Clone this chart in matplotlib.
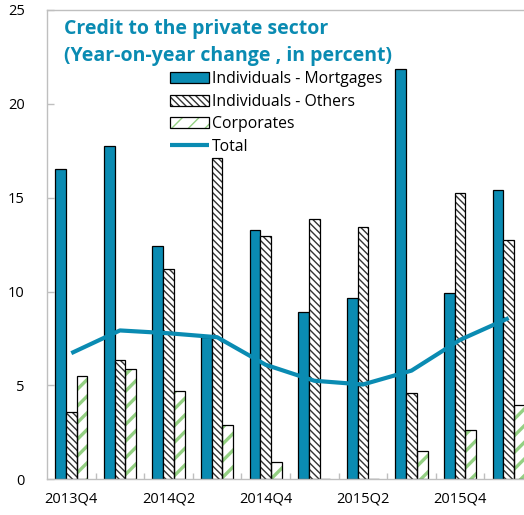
import matplotlib
matplotlib.use("Agg")
import matplotlib.pyplot as plt
import numpy as np

categories = ["2013Q4", "2014Q1", "2014Q2", "2014Q3", "2014Q4",
              "2015Q1", "2015Q2", "2015Q3", "2015Q4", "2016Q1"]
mortgages = [16.55, 17.77, 12.44, 7.57, 13.29, 8.89, 9.65, 21.88, 9.94, 15.39]
others = [3.57, 6.33, 11.22, 17.1, 12.96, 13.85, 13.44, 4.62, 15.23, 12.73]
corporates = [5.49, 5.9, 4.73, 2.88, 0.92, 0.02, 0.02, 1.51, 2.65, 3.96]
total = [6.72, 7.93, 7.78, 7.57, 6.1, 5.25, 5.05, 5.79, 7.43, 8.59]
tick_labels = ["2013Q4", "2014Q2", "2014Q4", "2015Q2", "2015Q4"]
labels = ["Individuals - Mortgages", "Individuals - Others", "Corporates", "Total"]
title_lines = ["Credit to the private sector", "(Year-on-year change , in percent)"]

BLUE = "#0a8bb2"
GREEN = "#94d083"
GREY = "#bfbfbf"

plt.rcParams['font.family'] = ['Open Sans', 'DejaVu Sans']
plt.rcParams['hatch.linewidth'] = 1.0

W, H = 524, 515
fig = plt.figure(figsize=(W / 100, H / 100), dpi=100)
ax = fig.add_axes([47 / W, 35.7 / H, 486 / W, 469.3 / H])

x = np.arange(len(categories))
bw = 0.22

b1 = ax.bar(x - bw, mortgages, bw, color=BLUE, edgecolor="black", linewidth=0.9, zorder=2)
b2 = ax.bar(x, others, bw, color="white", edgecolor="#333333", hatch="\\\\\\\\\\", linewidth=0, zorder=2)
b2e = ax.bar(x, others, bw, fill=False, edgecolor="black", linewidth=0.9, zorder=2.1)
b3 = ax.bar(x + bw, corporates, bw, color="white", edgecolor=GREEN, hatch="//", linewidth=0, zorder=2)
for p in b3:
    if hasattr(p, "set_hatch_linewidth"):
        p.set_hatch_linewidth(2.4)
b3e = ax.bar(x + bw, corporates, bw, fill=False, edgecolor="black", linewidth=0.9, zorder=2.1)
for p in b2:
    if hasattr(p, "set_hatch_linewidth"):
        p.set_hatch_linewidth(1.0)

ln, = ax.plot(x, total, color=BLUE, linewidth=3, zorder=3, solid_capstyle="butt")

ax.set_xlim(-0.5, len(categories) - 0.5)
ax.set_ylim(0, 25)
ax.set_yticks([0, 5, 10, 15, 20, 25])
ax.set_xticks(x[::2])
ax.set_xticklabels(tick_labels)
ax.set_xticks(np.arange(0.5, len(categories) - 0.5, 1), minor=True)
ax.tick_params(axis="x", which="major", length=0, pad=9, labelsize=10.5)
ax.tick_params(axis="x", which="minor", direction="in", length=4, color=GREY, width=1)
ax.tick_params(axis="y", direction="in", length=5, color=GREY, width=1, pad=16, labelsize=10.5)
for s in ax.spines.values():
    s.set_color(GREY)
    s.set_linewidth(1)

fig.text(64 / W, 1 - 34 / H, title_lines[0], color=BLUE, fontsize=14,
         fontweight="bold", va="baseline", ha="left")
fig.text(64 / W, 1 - 61 / H, title_lines[1], color=BLUE, fontsize=14,
         fontweight="bold", va="baseline", ha="left")

handles = [b1[0], (b2[0], b2e[0]), (b3[0], b3e[0]), ln]
leg = fig.legend(handles, labels, loc="upper left", bbox_to_anchor=(170 / W, 1 - 71 / H),
                 frameon=False, fontsize=11.3, borderpad=0, borderaxespad=0,
                 handlelength=2.5, handletextpad=0.2, labelspacing=0.42, handleheight=0.72)

fig.savefig("out.png", dpi=100)
